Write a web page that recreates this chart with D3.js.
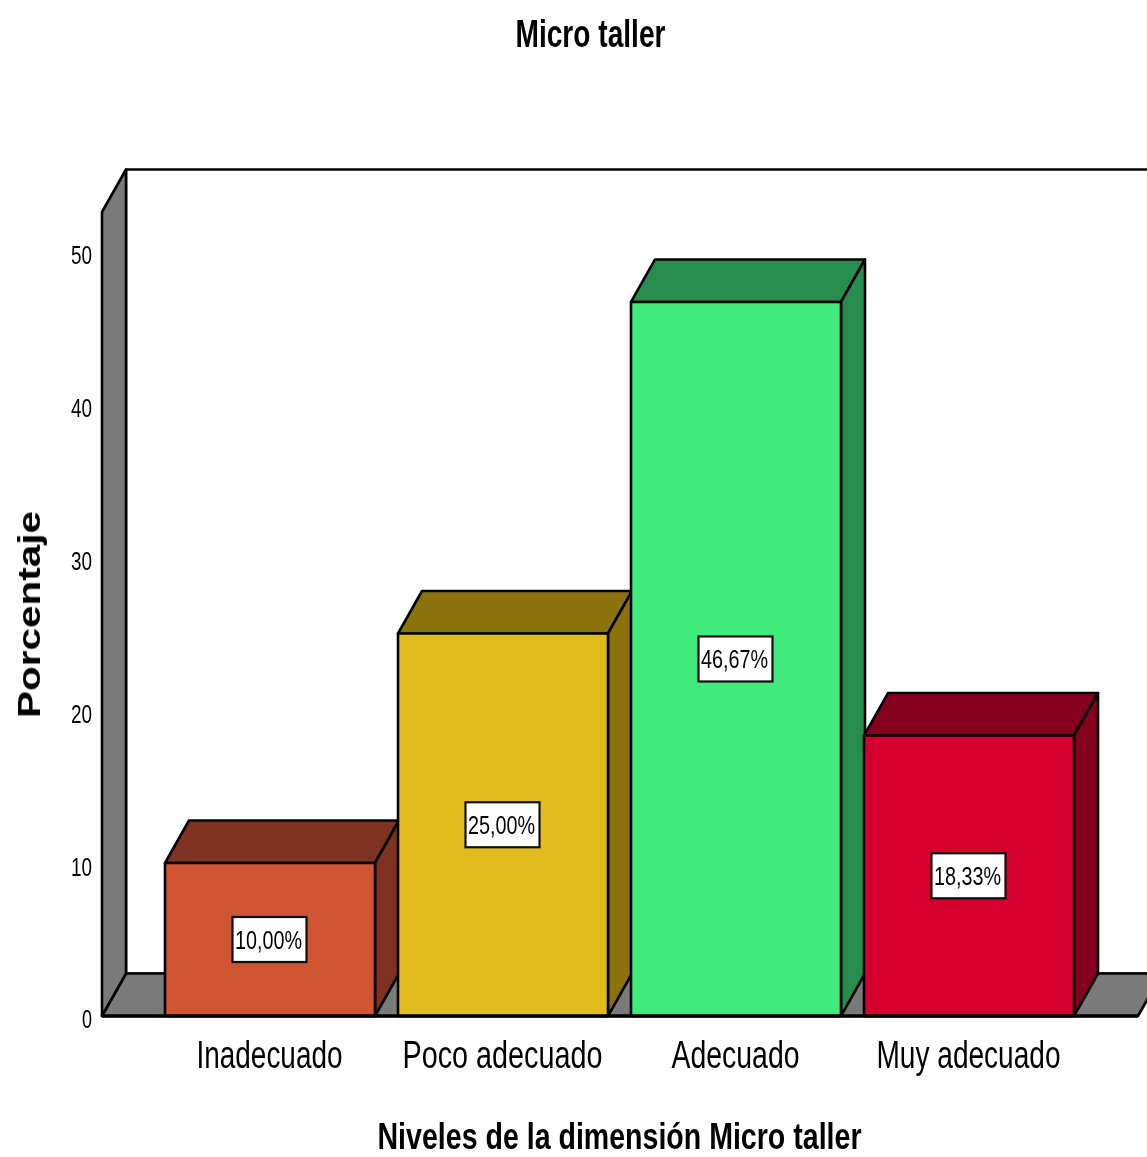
<!DOCTYPE html>
<html><head><meta charset="utf-8">
<script src="https://cdnjs.cloudflare.com/ajax/libs/d3/7.8.5/d3.min.js"></script>
<style>html,body{margin:0;padding:0;background:#fff;overflow:hidden}svg{display:block}
text{font-family:"Liberation Sans",Arial,sans-serif;fill:#000}</style></head><body>
<svg id="c" width="1147" height="1157"></svg>
<script>
const categories = ["Inadecuado","Poco adecuado","Adecuado","Muy adecuado"];
const percentages = [10.00,25.00,46.67,18.33];
const valueLabels = ["10,00%","25,00%","46,67%","18,33%"];
const yTicks = [0,10,20,30,40,50];
const frontColors = ["#D05430","#E1BB1D","#40EA7D","#D6002F"];
const sideColors = ["#7F3120","#8C7210","#268D50","#85001F"];
const wallColor = "#7A7A7A";
const titleText = "Micro taller", xTitle = "Niveles de la dimensión Micro taller", yTitle = "Porcentaje";

const svg = d3.select("#c");
const defs = svg.append("defs");
defs.append("filter").attr("id","soft").attr("x","-2%").attr("y","-2%").attr("width","104%").attr("height","104%")
  .append("feGaussianBlur").attr("stdDeviation",0.6);
defs.append("clipPath").attr("id","page").append("rect").attr("width",1147).attr("height",1157);

const dx = 24, dy = -42.5;
const y = d3.scaleLinear().domain([0,52.55]).range([1016,212]);
const x = d3.scaleBand().domain(categories).range([153.5,1085.5]).paddingInner(23/233).paddingOuter(23/466);
const g = svg.append("g").attr("filter","url(#soft)").attr("clip-path","url(#page)");
const line = d3.line();
const poly = (pts,fill,sw=2.6) => g.append("path").attr("d",line(pts)+"Z").attr("fill",fill)
   .attr("stroke","#050505").attr("stroke-width",sw).attr("stroke-linejoin","round");

const left = 102, right = 1138;
const y0 = y(0), yTop = y.range()[1];
poly([[left+dx,y0+dy],[left+dx,yTop+dy],[1200,yTop+dy],[1200,y0+dy]],"#fff");
poly([[left,y0],[left+dx,y0+dy],[right+dx,y0+dy],[right,y0]],wallColor);
poly([[left,y0],[left,yTop],[left+dx,yTop+dy],[left+dx,y0+dy]],wallColor);

categories.forEach((c,i)=>{
  const x0 = x(c), x1 = x0+x.bandwidth(), t = y(percentages[i]);
  poly([[x0,t],[x0+dx,t+dy],[x1+dx,t+dy],[x1,t]],sideColors[i]);
  poly([[x1,t],[x1+dx,t+dy],[x1+dx,y0+dy],[x1,y0]],sideColors[i]);
  poly([[x0,t],[x1,t],[x1,y0],[x0,y0]],frontColors[i]);
});
g.append("line").attr("x1",left).attr("x2",right).attr("y1",y0).attr("y2",y0).attr("stroke","#050505").attr("stroke-width",3.4);

const lab = g.selectAll("g.lab").data(categories).join("g").attr("class","lab")
  .attr("transform",(c,i)=>`translate(${x(c)+x.bandwidth()/2-0.5},${(y(percentages[i])+y0)/2})`);
lab.append("rect").attr("x",-37).attr("y",-22.5).attr("width",74).attr("height",45)
  .attr("fill","#fff").attr("stroke","#111").attr("stroke-width",2.2);
lab.append("text").text((c,i)=>valueLabels[i]).attr("text-anchor","middle").attr("x",-1).attr("y",9.5)
  .attr("font-size",26).attr("textLength",67).attr("lengthAdjust","spacingAndGlyphs");

const yAxis = g.append("g").attr("transform","translate(92,0)")
  .call(d3.axisLeft(y).tickValues(yTicks).tickSize(0).tickPadding(0));
yAxis.select(".domain").remove();
yAxis.selectAll("text").attr("font-size",26).attr("font-family",'"Liberation Sans",Arial,sans-serif')
  .attr("fill","#000").attr("dy",null).attr("y",12)
  .attr("textLength",21).attr("lengthAdjust","spacingAndGlyphs");
yAxis.selectAll(".tick").filter(d=>d===0).select("text").attr("textLength",10).attr("y",11);

const catWidths = [146,200,128,184];
const xAxis = g.append("g").attr("transform",`translate(-0.5,1068)`)
  .call(d3.axisBottom(x).tickSize(0).tickPadding(0));
xAxis.select(".domain").remove();
xAxis.selectAll("text").attr("font-size",38).attr("font-family",'"Liberation Sans",Arial,sans-serif')
  .attr("fill","#222").attr("dy",null).attr("y",0)
  .attr("textLength",(c,i)=>catWidths[i]).attr("lengthAdjust","spacingAndGlyphs");

g.append("text").text(titleText).attr("x",590.5).attr("y",47).attr("text-anchor","middle")
  .attr("font-size",39).attr("font-weight",700).attr("textLength",150).attr("lengthAdjust","spacingAndGlyphs");
g.append("text").text(xTitle).attr("x",619.5).attr("y",1149).attr("text-anchor","middle")
  .attr("font-size",37).attr("font-weight",700).attr("textLength",484).attr("lengthAdjust","spacingAndGlyphs");
g.append("text").text(yTitle).attr("transform","translate(40,614.5) rotate(-90)").attr("text-anchor","middle")
  .attr("font-size",32).attr("font-weight",700).attr("textLength",207).attr("lengthAdjust","spacingAndGlyphs");
</script></body></html>
